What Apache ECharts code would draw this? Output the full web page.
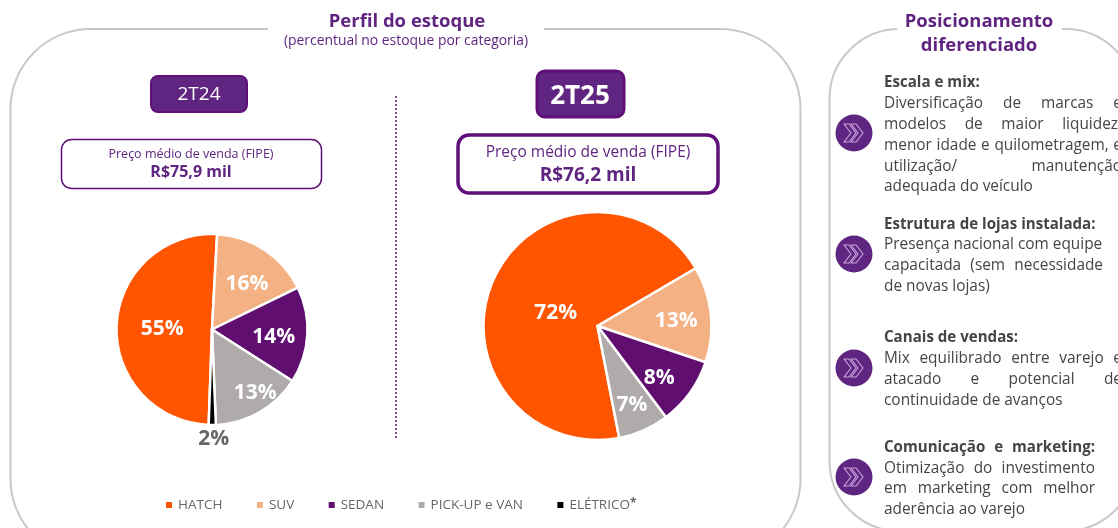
<!DOCTYPE html>
<html>
<head>
<meta charset="utf-8">
<title>Perfil do estoque</title>
<script src="https://cdn.jsdelivr.net/npm/echarts@6/dist/echarts.min.js"></script>
<style>
  html, body { margin: 0; padding: 0; background: #fff; }
  #chart { width: 1118px; height: 528px; }
</style>
</head>
<body>
<div id="chart"></div>
<script>
const categories = ['HATCH', 'SUV', 'SEDAN', 'PICK-UP e VAN', 'ELÉTRICO']
const colors = ['#ff5500', '#f4b183', '#600f70', '#afabab', '#000000']

// slice sizes as drawn in the picture (they do not follow the printed labels)
const slices2T24 = [50.3, 16.9, 16.3, 15.3, 1.2]
const labels2T24 = ['55%', '16%', '14%', '13%', '2%']
const slices2T25 = [69.6, 13.6, 9.6, 7.2]
const labels2T25 = ['72%', '13%', '8%', '7%']

// label nudges, [dx, dy] from the default position
const shift2T24 = [[1, 2], [7, -3], [11, 5], [18, 20], [-44, -1]]
const shift2T25 = [[13, 12], [19, 1], [13, 17], [10, 24]]

const bodyLines = [
  // text, y, bold, right edge when justified
  ['Escala e mix:', 81, true, 0],
  ['Diversificação de marcas e', 102, false, 1122],
  ['modelos de maior liquidez,', 123, false, 1122],
  ['menor idade e quilometragem, e', 144, false, 1122],
  ['utilização/ manutenção', 165, false, 1122],
  ['adequada do veículo', 185, false, 0],
  ['Estrutura de lojas instalada:', 223, true, 0],
  ['Presença nacional com equipe', 243, false, 0],
  ['capacitada (sem necessidade', 264, false, 1103],
  ['de novas lojas)', 285, false, 0],
  ['Canais de vendas:', 336, true, 0],
  ['Mix equilibrado entre varejo e', 357, false, 1122],
  ['atacado e potencial de', 378, false, 1122],
  ['continuidade de avanços', 399, false, 0],
  ['Comunicação e marketing:', 446, true, 1095],
  ['Otimização do investimento', 467, false, 1095],
  ['em marketing com melhor', 487, false, 1095],
  ['aderência ao varejo', 508, false, 0],
]
const iconRows = [133, 254, 368, 477]

const fontName = '"Open Sans", sans-serif'
const purple = '#5f2580'
const darkPurple = '#600f78'
const bodyColor = '#454545'
const borderColor = '#c9c9c9'

const measure = document.createElement('canvas').getContext('2d')

function text(str, x, y, font, fill, align) {
  return {
    type: 'text',
    x: x,
    y: y + 1.5,
    silent: true,
    style: { text: str, font: font, fill: fill, align: align || 'center', verticalAlign: 'middle' },
  }
}

function box(x, y, w, h, r, fill, stroke, lineWidth) {
  return {
    type: 'rect',
    silent: true,
    shape: { x: x, y: y, width: w, height: h, r: r },
    style: { fill: fill, stroke: stroke, lineWidth: lineWidth },
  }
}

// canvas text has no justify, so spread the words by hand
function bodyLine(row) {
  const str = row[0], y = row[1], bold = row[2], right = row[3]
  const font = bold ? 'bold 15.1px ' + fontName : '15.4px ' + fontName
  const left = 884
  if (!right) return [text(str, left, y, font, bodyColor, 'left')]
  measure.font = font
  const words = str.split(' ')
  const used = words.reduce((sum, w) => sum + measure.measureText(w).width, 0)
  const gap = (right - left - used) / (words.length - 1)
  let x = left
  return words.map(w => {
    const item = text(w, x, y, font, bodyColor, 'left')
    x += measure.measureText(w).width + gap
    return item
  })
}

function icon(cy) {
  const cx = 854
  const chevron = dx => ({
    type: 'polygon',
    silent: true,
    shape: {
      points: [[-10, -9], [-5, -9], [2, 0], [-5, 9], [-10, 9], [-3, 0]].map(p => [cx + p[0] + dx, cy + p[1]]),
    },
    style: { fill: 'none', stroke: '#c9a6da', lineWidth: 1.2, lineJoin: 'round' },
  })
  return [
    { type: 'circle', silent: true, shape: { cx: cx, cy: cy, r: 18.5 }, style: { fill: purple } },
    chevron(0),
    chevron(7),
  ]
}

function pieSeries(slices, labels, shift, center, radius, startAngle) {
  return {
    type: 'pie',
    center: center,
    radius: radius,
    startAngle: startAngle,
    silent: true,
    animation: false,
    itemStyle: { borderColor: '#fff', borderWidth: 2.5 },
    labelLine: { show: false },
    labelLayout: params => ({ dx: shift[params.dataIndex][0], dy: shift[params.dataIndex][1] }),
    data: slices.map((v, i) => ({
      name: categories[i],
      value: v,
      itemStyle: { color: colors[i] },
      label: i === 4 ? {
        show: true,
        position: 'outside',
        distanceToLabelLine: 0,
        formatter: labels[i],
        color: '#666666',
        fontFamily: fontName,
        fontWeight: 'bold',
        fontSize: 21,
      } : {
        show: true,
        position: 'inner',
        formatter: labels[i],
        color: '#fff',
        fontFamily: fontName,
        fontWeight: 'bold',
        fontSize: 21,
      },
    })),
  }
}

const chart = echarts.init(document.getElementById('chart'), null, { renderer: 'canvas' })

let graphics = [
  // panels, white strips open the border behind the titles
  box(10.5, 29, 790, 530, 80, '#fff', borderColor, 2),
  box(268, 24, 276, 12, 0, '#fff', '#fff', 0),
  box(829.5, 29, 306, 502, 70, '#fff', borderColor, 2),
  box(897, 24, 165, 12, 0, '#fff', '#fff', 0),

  text('Perfil do estoque', 407, 20, 'bold 18.5px ' + fontName, purple),
  text('(percentual no estoque por categoria)', 406, 40, '13.9px ' + fontName, purple),
  text('Posicionamento', 979, 20, 'bold 18.5px ' + fontName, purple),
  text('diferenciado', 979, 44, 'bold 18.5px ' + fontName, purple),

  box(151, 76, 96, 36, 7, purple, darkPurple, 2),
  text('2T24', 199, 93, '19px ' + fontName, '#fff'),
  box(537, 71, 87, 46, 8, purple, darkPurple, 3),
  text('2T25', 580, 95, 'bold 26px ' + fontName, '#fff'),

  box(61.5, 139.5, 260, 49, 10, '#fff', darkPurple, 1.5),
  text('Preço médio de venda (FIPE)', 191, 153, '12.5px ' + fontName, purple),
  text('R$75,9 mil', 191, 171, 'bold 16px ' + fontName, purple),
  box(458, 135, 260, 58, 11, '#fff', darkPurple, 3.5),
  text('Preço médio de venda (FIPE)', 588, 151, '15.5px ' + fontName, purple),
  text('R$76,2 mil', 588, 174, 'bold 19px ' + fontName, purple),

  {
    type: 'line',
    silent: true,
    shape: { x1: 396, y1: 96, x2: 396, y2: 438 },
    style: { stroke: darkPurple, lineWidth: 1.5, lineDash: [2, 2] },
  },
]
bodyLines.forEach(row => { graphics = graphics.concat(bodyLine(row)) })
iconRows.forEach(cy => { graphics = graphics.concat(icon(cy)) })

chart.setOption({
  animation: false,
  graphic: { elements: graphics.map(g => Object.assign({ z: -1 }, g)) },
  legend: {
    data: categories,
    left: 164,
    top: 498,
    padding: 0,
    icon: 'rect',
    itemWidth: 8,
    itemHeight: 8,
    itemGap: 32.5,
    selectedMode: false,
    textStyle: {
      color: '#666666',
      fontFamily: fontName,
      fontSize: 13.5,
      rich: { sup: { fontSize: 12, fontWeight: 'bold', color: '#666666', verticalAlign: 'top', lineHeight: 10 } },
    },
    formatter: name => (name === 'ELÉTRICO' ? name + '{sup|*}' : name),
  },
  series: [
    pieSeries(slices2T24, labels2T24, shift2T24, [212, 329.5], 95.5, 268),
    pieSeries(slices2T25, labels2T25, shift2T25, [597.5, 326], 114, 281),
  ],
})
</script>
</body>
</html>
